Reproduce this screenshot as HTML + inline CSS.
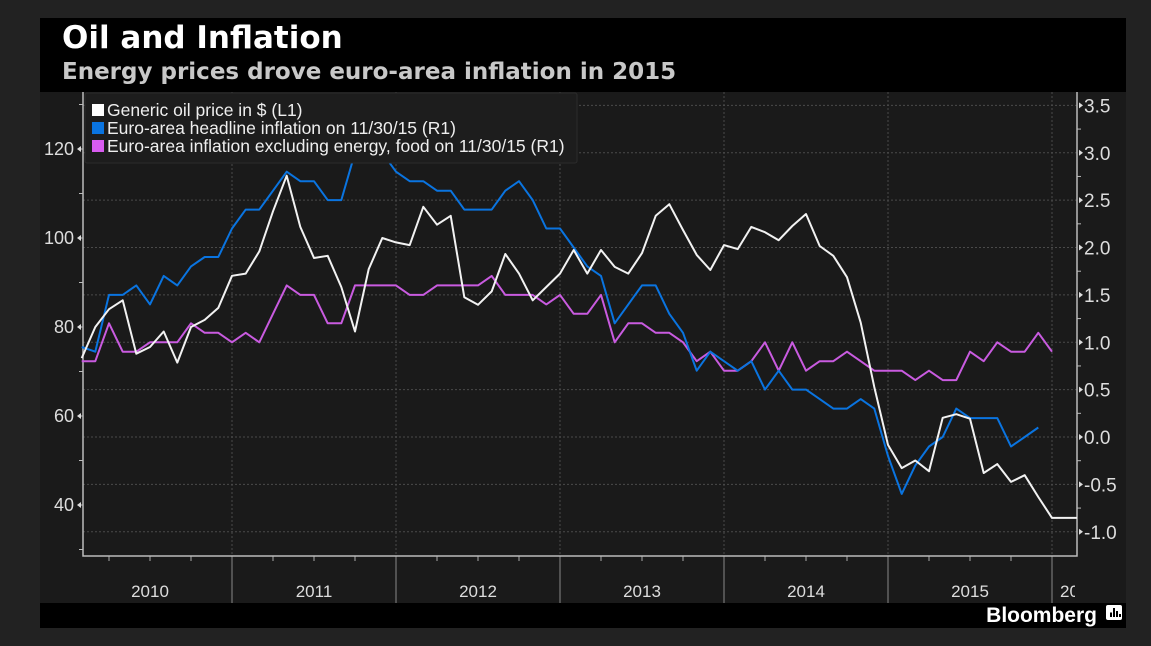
<!DOCTYPE html>
<html><head><meta charset="utf-8">
<style>
html,body{margin:0;padding:0;background:#222;}
body{width:1151px;height:646px;position:relative;overflow:hidden;font-family:"Liberation Sans",sans-serif;}
#panel{position:absolute;left:40px;top:18px;width:1086px;height:610px;background:#000;}
#title{position:absolute;left:22px;top:2px;font:bold 31px "DejaVu Sans",sans-serif;color:#fff;}
#sub{position:absolute;left:22px;top:41px;font:bold 23px "DejaVu Sans",sans-serif;color:#c8c8c8;}
svg{position:absolute;left:0;top:0;}
</style></head><body>
<div id="panel">
<div id="title">Oil and Inflation</div>
<div id="sub">Energy prices drove euro-area inflation in 2015</div>
</div>
<svg id="chart" width="1151" height="646"></svg>
<script>
const years = ["2010","2011","2012","2013","2014","2015","20"];
const leftTicks = [40,60,80,100,120];
const rightTicks = [-1.0,-0.5,0.0,0.5,1.0,1.5,2.0,2.5,3.0,3.5];
const oil = [73,80,84,86,74,75.5,79,72,80,81.6,84.3,91.5,92,97,106,114,102.5,95.5,96,89,79,93,100,99,98.4,107,103,105,86.7,85,88,96.4,92,86,89,92,97.3,92,97.3,93.5,92,96.6,105,107.6,101.8,96.2,92.8,98.4,97.5,102.5,101.3,99.5,102.7,105.4,98.2,96,91.2,81,66.5,53.5,48.3,50,47.6,59.6,60.4,59.4,47.2,49.2,45.2,46.7,41.8,37.1];
const headline = [0.95,0.9,1.5,1.5,1.6,1.4,1.7,1.6,1.8,1.9,1.9,2.2,2.4,2.4,2.6,2.8,2.7,2.7,2.5,2.5,3.0,3.0,3.0,2.8,2.7,2.7,2.6,2.6,2.4,2.4,2.4,2.6,2.7,2.5,2.2,2.2,2.0,1.8,1.7,1.2,1.4,1.6,1.6,1.3,1.1,0.7,0.9,0.8,0.7,0.8,0.5,0.7,0.5,0.5,0.4,0.3,0.3,0.4,0.3,-0.2,-0.6,-0.3,-0.1,0.0,0.3,0.2,0.2,0.2,-0.1,0.0,0.1];
const core = [0.8,0.8,1.2,0.9,0.9,1.0,1.0,1.0,1.2,1.1,1.1,1.0,1.1,1.0,1.3,1.6,1.5,1.5,1.2,1.2,1.6,1.6,1.6,1.6,1.5,1.5,1.6,1.6,1.6,1.6,1.7,1.5,1.5,1.5,1.4,1.5,1.3,1.3,1.5,1.0,1.2,1.2,1.1,1.1,1.0,0.8,0.9,0.7,0.7,0.8,1.0,0.7,1.0,0.7,0.8,0.8,0.9,0.8,0.7,0.7,0.7,0.6,0.7,0.6,0.6,0.9,0.8,1.0,0.9,0.9,1.1,0.9];

const NS="http://www.w3.org/2000/svg";
const svg=document.getElementById('chart');
const PL=83,PR=1077,PT=92,PB=556,X0=68,MW=164/12;
const xM=i=>X0+MW*(i+1);
const yL=v=>149+(120-v)*4.45;
const yR=v=>437-v*94.75;
function mk(tag,attrs,parent){const e=document.createElementNS(NS,tag);for(const k in attrs)e.setAttribute(k,attrs[k]);(parent||svg).appendChild(e);return e;}

const bg=mk('rect',{x:40,y:92,width:1086,height:511,fill:'#1a1a1a'});


const clip=mk('clipPath',{id:'cl'});mk('rect',{x:0,y:0,width:1075,height:646},clip);

rightTicks.forEach(v=>{
  const g=mk('line',{x1:PL,x2:PR,y1:yR(v),y2:yR(v),stroke:'#4a4a4a','stroke-dasharray':'2,2'});
  
  
});
years.forEach((y,k)=>{
  const x=X0+164*(k+1);
  if(x<PR){
    const g=mk('line',{x1:x,x2:x,y1:PT,y2:PB,stroke:'#4a4a4a','stroke-dasharray':'2,2'});
    
    
    const t=mk('line',{x1:x,x2:x,y1:PB,y2:603,stroke:'#888'});
    
    
  }
  for(let q=1;q<4;q++){const qx=X0+164*k+41*q; if(qx>PL&&qx<PR){const qt=mk('line',{x1:qx,x2:qx,y1:PB,y2:PB+5,stroke:'#aaa'});}}
  const cx=X0+164*k+82;
  const lbl=mk('text',{x:k==6?1060:cx,y:597,fill:'#ddd','font-size':17,'text-anchor':k==6?'start':'middle'});
  lbl.textContent=y;
  if(k==6)lbl.setAttribute('clip-path','url(#cl)');
  
  
});

const ax=mk('path',{d:`M${PL},${PT}V${PB}H${PR}V${PT}`,stroke:'#bbb','stroke-width':1.5,fill:'none'});



for(let v=30;v<=130;v+=10){
  const y=yL(v); if(y<PT||y>PB)continue;
  const t=mk('line',{x1:PL-4,x2:PL,y1:y,y2:y,stroke:'#bbb'});
  
  
}
leftTicks.forEach(v=>{
  const y=yL(v);
  const tr=mk('path',{d:`M${PL-6},${y}L${PL-2},${y-3}L${PL-2},${y+3}Z`,fill:'#ddd'});
  
  
  const l=mk('text',{x:PL-9,y:y+6,fill:'#ddd','font-size':18,'text-anchor':'end'});
  l.textContent=v;
  
  
});
rightTicks.forEach(v=>{
  const y=yR(v);
  const tr=mk('path',{d:`M${PR+6},${y}L${PR+2},${y-3}L${PR+2},${y+3}Z`,fill:'#ddd'});
  
  
  if(v>-1){
  const m=mk('line',{x1:PR,x2:PR+4,y1:y+23.7,y2:y+23.7,stroke:'#bbb'});
  
  
  }
  const l=mk('text',{x:PR+7,y:y+7,fill:'#ddd','font-size':19});
  l.textContent=v.toFixed(1);
  
  
});

function series(arr,fy,color,name,extend){
  let d=arr.map((v,i)=>(i?'L':'M')+xM(i).toFixed(1)+','+fy(v).toFixed(1)).join('');
  if(extend)d+='H'+PR;
  const p=mk('path',{d,stroke:color,'stroke-width':2,fill:'none','stroke-linejoin':'round'});
  
  
}
series(core,yR,'#c95be0','core-inflation-line');
series(headline,yR,'#0a74e0','headline-inflation-line');
series(oil,yL,'#f2f2f2','oil-price-line',true);

const lg=mk('rect',{x:85,y:93,width:492,height:70,fill:'#1d1d1d',stroke:'#2c2c2c',rx:2});


const legendItems=[['Generic oil price in $ (L1)','#fff'],['Euro-area headline inflation on 11/30/15 (R1)','#0a74e0'],['Euro-area inflation excluding energy, food on 11/30/15 (R1)','#d85cf0']];
legendItems.forEach((it,k)=>{
  const y=103+k*18;
  const s=mk('rect',{x:92,y:y+1,width:12,height:12,fill:it[1]});
  
  
  const t=mk('text',{x:107,y:y+13,fill:'#eee','font-size':17.5,textLength:0});
  t.removeAttribute('textLength');
  t.textContent=it[0];
  
  
});

const bl=mk('text',{x:1097,y:622,fill:'#fff','font-size':21,'font-weight':'bold','text-anchor':'end'});
bl.textContent='Bloomberg';


const ic=mk('rect',{x:1106,y:605,width:16,height:15,fill:'#fff',rx:2});


[[1110,3],[1113,6],[1116,4],[1119,2]].forEach(b=>{const r=mk('rect',{x:b[0],y:617-b[1]*1.5,width:2,height:b[1]*1.5,fill:'#000'});});
</script>
</body></html>
